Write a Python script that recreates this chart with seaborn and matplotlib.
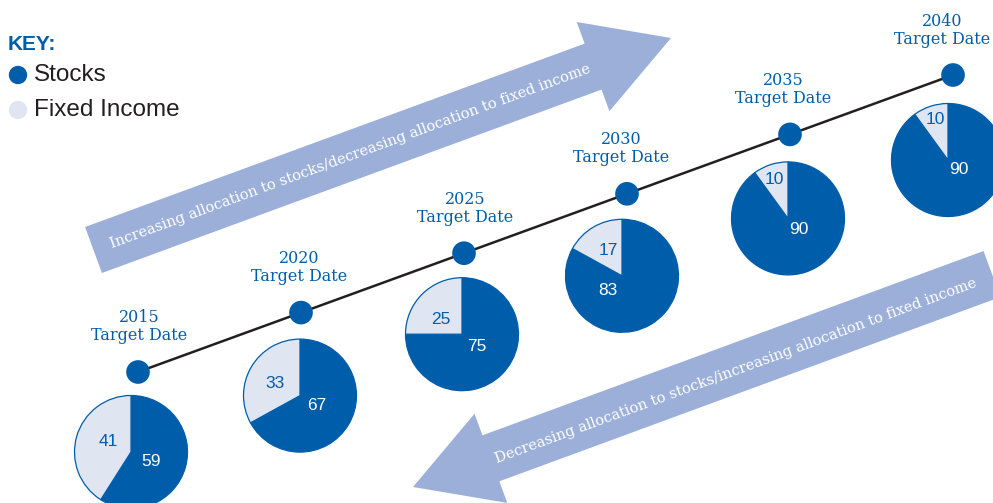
import numpy as np
import matplotlib
matplotlib.use("Agg")
import matplotlib.pyplot as plt
from matplotlib.patches import Polygon
import seaborn as sns

# ---------------- data ----------------
years = [2015, 2020, 2025, 2030, 2035, 2040]
stocks = [59, 67, 75, 83, 90, 90]
fixed_income = [41, 33, 25, 17, 10, 10]
label_line2 = "Target Date"
key_title = "KEY:"
key_labels = ["Stocks", "Fixed Income"]
arrow_up_text = "Increasing allocation to stocks/decreasing allocation to fixed income"
arrow_down_text = "Decreasing allocation to stocks/increasing allocation to fixed income"

# ---------------- style ----------------
DARK = "#005DAA"
LIGHT = "#E0E5F2"
ARROW = "#9BAFD8"
LINE = "#231F20"
W, H = 993, 503

sns.set_theme(style="white")
plt.rcParams["font.family"] = ["DejaVu Sans"]

fig = plt.figure(figsize=(W / 100, H / 100), dpi=100)
ax = fig.add_axes([0, 0, 1, 1])


def Y(py):
    return H - py


# timeline scale: year -> pixel position
def tx(year):
    return 138 + (year - 2015) / 5 * 163


def ty(year):
    return 372 - (year - 2015) / 5 * 59.4


# ---------------- arrows ----------------
def arrow(tail, tip, shaft_w=49, head_w=95, head_l=83, color=ARROW):
    t = np.array([tail[0], Y(tail[1])], float)
    p = np.array([tip[0], Y(tip[1])], float)
    d = p - t
    L = np.hypot(*d)
    u = d / L
    n = np.array([-u[1], u[0]])
    b = p - u * head_l
    pts = [t + n * shaft_w / 2, b + n * shaft_w / 2, b + n * head_w / 2, p,
           b - n * head_w / 2, b - n * shaft_w / 2, t - n * shaft_w / 2]
    ax.add_patch(Polygon(pts, closed=True, facecolor=color, edgecolor="none", zorder=1))
    return np.degrees(np.arctan2(u[1], u[0]))


ang_up = arrow((93.5, 250), (671, 38))
ang_dn = arrow((992, 274), (413, 487))

ax.text(350, Y(156), arrow_up_text, rotation=ang_up, rotation_mode="anchor",
        ha="center", va="center", color="white", fontsize=10.5,
        family="DejaVu Serif", zorder=2)
ax.text(736, Y(371), arrow_down_text, rotation=ang_dn + 180, rotation_mode="anchor",
        ha="center", va="center", color="white", fontsize=10.5,
        family="DejaVu Serif", zorder=2)

# ---------------- timeline ----------------
xs = [tx(y) for y in years]
ys = [Y(ty(y)) for y in years]
sns.lineplot(x=xs, y=ys, color=LINE, linewidth=1.8, ax=ax, zorder=3, sort=False)
sns.scatterplot(x=xs, y=ys, color=DARK, s=290, edgecolor="none", ax=ax, zorder=4)

label_dx = [1, -2, 1, -6, -7, -11]
for yr, x, y, dx in zip(years, xs, ys, label_dx):
    ax.text(x + dx, y + 54, str(yr), ha="center", va="center", color=DARK,
            fontsize=11.5, family="DejaVu Serif", zorder=5)
    ax.text(x + dx, y + 36, label_line2, ha="center", va="center", color=DARK,
            fontsize=11.5, family="DejaVu Serif", zorder=5)

# ---------------- pies ----------------
R = 56.5
pie_off = [(-7, 80), (-1, 83), (-2, 81), (-5, 82), (-2, 84), (-5, 85)]
stock_lbl = [(20, 10), (17, 10), (15, 12), (-14, 15), (11, 11), (11, 9)]
fixed_lbl = [(-23, -10), (-25, -12), (-21, -15), (-14, -25), (-14, -39), (-13, -41)]
for i, yr in enumerate(years):
    cx = tx(yr) + pie_off[i][0]
    cy = ty(yr) + pie_off[i][1]
    ax.pie([stocks[i], fixed_income[i]], colors=[DARK, LIGHT], startangle=90,
           counterclock=False, center=(cx, Y(cy)), radius=R, frame=True,
           wedgeprops=dict(edgecolor=DARK, linewidth=0.9))
    ax.text(cx + stock_lbl[i][0], Y(cy + stock_lbl[i][1]), str(stocks[i]),
            ha="center", va="center", color="white", fontsize=12.5,
            family="Liberation Sans", zorder=6)
    ax.text(cx + fixed_lbl[i][0], Y(cy + fixed_lbl[i][1]), str(fixed_income[i]),
            ha="center", va="center", color=DARK, fontsize=12.5,
            family="Liberation Sans", zorder=6)

# ---------------- key ----------------
ax.text(8, Y(44), key_title, ha="left", va="center", color=DARK, fontsize=15,
        fontweight="bold", family="Liberation Sans")
sns.scatterplot(x=[18, 18], y=[Y(75), Y(110)], hue=key_labels,
                palette=[DARK, LIGHT], s=175, edgecolor="none", legend=False, ax=ax)
for lbl, py in zip(key_labels, [75, 110]):
    ax.text(34, Y(py), lbl, ha="left", va="center", color="#231F20",
            fontsize=17.5, family="Liberation Sans")

ax.set_xlim(0, W)
ax.set_ylim(0, H)
ax.set_aspect("equal")
ax.axis("off")
fig.savefig("out.png", dpi=100)
